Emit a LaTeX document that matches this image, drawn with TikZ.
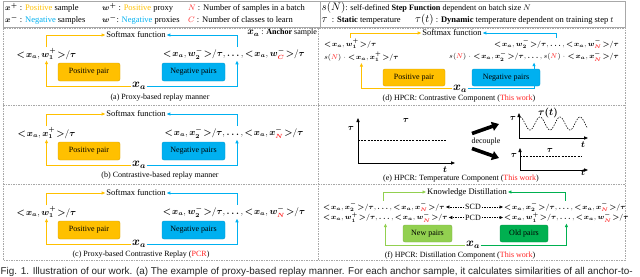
\documentclass[tikz,border=0pt]{standalone}
\usepackage{fontspec}
\setmainfont{Liberation Serif}
\newfontfamily\capfont{Liberation Sans}
\usepackage{bm}
\usetikzlibrary{arrows.meta}
\definecolor{cyel}{HTML}{FFC000}
\definecolor{cblu}{HTML}{00B0F0}
\definecolor{cgrl}{HTML}{92D050}
\definecolor{cgrd}{HTML}{00B050}
\definecolor{cred}{HTML}{FF2020}
\definecolor{cbord}{HTML}{A8A8A8}
\newcommand{\fsz}[1]{\fontsize{#1}{#1}\selectfont}
\newcommand{\XA}{\bm{x}_{\bm{a}}}
\newcommand{\RN}{{\color{cred}\bm{N}}}
\newcommand{\RC}{{\color{cred}\bm{C}}}
\newcommand{\mlt}{\mathord{\bm{<}}\mskip2mu}
\newcommand{\mgt}{\mskip2mu\mathord{\bm{>}}/\bm{\tau}}
\newcommand{\pair}[3]{\mlt\XA,\bm{#1}_{#2}^{\bm{#3}}\mgt}
\newcommand{\dts}{,\bm{\ldots},}
\newcommand{\sN}{s({\color{cred}N})\mskip1mu\cdot\mskip1mu}
\tikzset{
  smx/.style={font=\fsz{8.5}, inner sep=1pt},
  mth/.style={font=\fsz{9.2}, inner sep=1pt},
  mths/.style={font=\fsz{7.1}, inner sep=1pt},
  txs/.style={font=\fsz{8}, inner sep=1pt},
  capt/.style={font=\fsz{8}, inner sep=0pt},
  leg/.style={font=\fsz{8.5}, inner sep=0pt, anchor=west},
  xan/.style={font=\fsz{12}, inner sep=0.5pt},
  pbox/.style={rounded corners=2pt, font=\fsz{8}, inner sep=0pt, minimum height=18pt},
  posbox/.style={pbox, fill=cyel, draw=cyel!85!black, minimum width=62pt},
  negbox/.style={pbox, fill=cblu, draw=cblu!85!black, minimum width=63pt},
  newbox/.style={pbox, fill=cgrl, draw=cgrl!85!black, minimum width=49pt, minimum height=17pt},
  oldbox/.style={pbox, fill=cgrd, draw=cgrd!85!black, minimum width=48pt, minimum height=17pt},
  tip/.style={-{Triangle[length=3.5pt,width=3pt]}},
  yline/.style={tip, draw=cyel, line width=0.9pt},
  bline/.style={tip, draw=cblu, line width=0.9pt},
  lgline/.style={tip, draw=cgrl, line width=0.9pt},
  dgline/.style={tip, draw=cgrd, line width=0.9pt},
  darr/.style={tip, dashed, dash pattern=on 1.5pt off 1pt, line width=0.6pt},
  axis/.style={-{Triangle[length=4pt,width=3.2pt]}, line width=0.8pt},
  bigarr/.style={-{Triangle[length=7pt,width=9pt]}, line width=3.6pt},
  dashbord/.style={draw=cbord, line width=0.6pt, dash pattern=on 1.5pt off 1pt},
  legbord/.style={draw=cbord, line width=0.6pt}
}
\newcommand{\leftpanel}[5]{%
\begin{scope}[yshift=-#5pt]
\node[smx] (sm#1) at (136,35) {Softmax function};
\node[mth] (p#1) at (46.5,54) {#2};
\node[mth] (n#1) at (234,54) {#3};
\node[posbox] (pb#1) at (89,72) {Positive pair};
\node[negbox] (nb#1) at (193.5,72) {Negative pairs};
\node[xan] (xa#1) at (139,86) {$\XA$};
\draw[yline] (p#1.north) |- (sm#1.west);
\draw[bline] ([xshift=3pt]n#1.north) |- (sm#1.east);
\draw[yline] (xa#1.west) -| (p#1.south);
\draw[bline] (xa#1.east) -| ([xshift=3pt]n#1.south);
\end{scope}}
\begin{document}
\begin{tikzpicture}[x=1pt,y=-1pt]
\useasboundingbox (0,0) rectangle (640,276);
\clip (0,0) rectangle (640,276);
% legend boxes
\draw[legbord] (3,1) rectangle (320,27);
\draw[legbord] (320,1) rectangle (625,27);
\node[leg] (l1) at (5,8) {$\bm{x}^{\bm{+}}$ : {\color{cyel}Positive} sample};
\node[leg] (l2) at (102,8) {$\bm{w}^{\bm{+}}$ : {\color{cyel}Positive} proxy};
\node[leg] (l3) at (188,8) {$\color{cred}N$ : Number of samples in a batch};
\node[leg] (l4) at (5,20) {$\bm{x}^{\bm{-}}$ : {\color{cblu}Negative} samples};
\node[leg] (l5) at (102,20) {$\bm{w}^{\bm{-}}$: {\color{cblu}Negative} proxies};
\node[leg] (l6) at (188,20) {$\color{cred}C$ : Number of classes to learn};
\node[leg, font=\fsz{8.2}] (l7) at (321.5,8) {{\fsz{11}$s(N)$}: self-defined \textbf{Step Function} dependent on batch size $N$};
\node[leg, font=\fsz{8.5}] (l8) at (321.5,20) {{\fsz{11}$\tau$}\ \ : \textbf{Static} temperature};
\node[leg, font=\fsz{8.5}] (l9) at (415,20) {{\fsz{11}$\tau(t)$} : \textbf{Dynamic} temperature dependent on training step $t$};
% main dashed frame
\draw[dashbord] (3,28) rectangle (625,260);
\draw[dashbord] (3,105) -- (625,105);
\draw[dashbord] (3,184) -- (625,184);
\draw[dashbord] (318,28) -- (318,260);
% left panels
\leftpanel{a}{$\pair{w}{\bm{1}}{+}$}{$\pair{w}{\bm{2}}{-}\dts\pair{w}{\RC}{-}$}{}{0}
\leftpanel{b}{$\pair{x}{\bm{1}}{+}$}{$\pair{x}{\bm{2}}{-}\dts\pair{x}{\RN}{-}$}{}{79}
\leftpanel{c}{$\pair{w}{\bm{1}}{+}$}{$\pair{w}{\bm{2}}{-}\dts\pair{w}{\RN}{-}$}{}{158}
\node[leg, anchor=east, font=\fsz{8}] (anc) at (317,33) {{\fsz{10}$\XA$} : \textbf{Anchor} sample};
\node[capt] (ca) at (160,98) {(a) Proxy-based replay manner};
\node[capt] (cb) at (160,176) {(b) Contrastive-based replay manner};
\node[capt] (cc) at (141,255) {(c) Proxy-based Contrastive Replay ({\color{cred}PCR})};
% panel d
\node[smx] (smd) at (452,33) {Softmax function};
\node[mths, anchor=west] (d1l) at (323,44) {$\pair{w}{\bm{1}}{+}$};
\node[mths, anchor=west] (d2l) at (323,57) {$\sN\pair{x}{\bm{1}}{+}$};
\node[mths, anchor=east] (d1r) at (620,44) {$\pair{w}{\bm{2}}{-}\dts\pair{w}{\RN}{-}$};
\node[mths, anchor=east] (d2r) at (620,56.5) {$\sN\pair{x}{\bm{2}}{-}\dts\sN\pair{x}{\RN}{-}$};
\node[posbox, minimum height=17pt] (pbd) at (414,77.5) {Positive pair};
\node[negbox, minimum height=17pt, minimum width=68pt] (nbd) at (506,77.5) {Negative pairs};
\node[xan] (xad) at (460,88.5) {$\XA$};
\draw[yline] (d1l.north) |- (smd.west);
\draw[bline] (d1r.north) |- (smd.east);
\draw[yline] (xad.west) -| (d2l.south);
\draw[bline] (xad.east) -| (d2r.south);
\node[capt] (cd) at (459,99) {(d) HPCR: Contrastive Component ({\color{cred}This work})};
% panel e
\coordinate (eo) at (358,163);
\draw[axis] (eo) -- (358,118);
\draw[axis] (eo) -- (455,163);
\draw[dashed, dash pattern=on 2pt off 1.2pt, line width=0.6pt] (358,140) -- (447,140);
\node[mth, font=\fsz{9.5}] (et1) at (351,128) {$\bm{\tau}$};
\node[mth, font=\fsz{9.5}] (et2) at (406,120) {$\bm{\tau}$};
\node[mth, font=\fsz{9.5}] (et3) at (445,170) {$\bm{t}$};
\node[txs, font=\fsz{8}] (dec) at (486,142) {decouple};
\draw[bigarr] (472,133.5) -- (499,124);
\draw[bigarr] (472,148.5) -- (499,158);
\draw[axis] (519,138) -- (519,113);
\draw[axis] (519,138) -- (588,138);
\draw[dashed, dash pattern=on 1.5pt off 1.2pt, line width=0.6pt] plot[domain=520:587, samples=90] (\x, {123.5-6.5*cos(18*(\x-520))});
\node[mth, font=\fsz{9.5}] (et4) at (513,118) {$\bm{\tau}$};
\node[mth, font=\fsz{10}] (et5) at (548,112.5) {$\bm{\tau(t)}$};
\node[mth, font=\fsz{9.5}] (et6) at (583,145) {$\bm{t}$};
\draw[axis] (520,170) -- (520,148);
\draw[axis] (520,170) -- (588,170);
\draw[dashed, dash pattern=on 2pt off 1.2pt, line width=0.6pt] (520,156) -- (582,156);
\node[mth, font=\fsz{9.5}] (et7) at (514,155) {$\bm{\tau}$};
\node[mth, font=\fsz{9.5}] (et8) at (550,150) {$\bm{\tau}$};
\node[mth, font=\fsz{9.5}] (et9) at (583,173) {$\bm{t}$};
\node[capt] (ce) at (461,178.5) {(e) HPCR: Temperature Component ({\color{cred}This work})};
% panel f
\node[smx] (kd) at (467,192) {Knowledge Distillation};
\node[mths, anchor=west] (f1l) at (322,207) {$\pair{x}{\bm{2}}{-}\dts\pair{x}{\RN}{-}$};
\node[mths, anchor=west] (f2l) at (322,217.5) {$\pair{w}{\bm{1}}{+}\dts\pair{w}{\RN}{-}$};
\node[txs] (scd) at (473,207) {SCD};
\node[txs] (pcd) at (473,217.5) {PCD};
\node[mths, anchor=west] (f1r) at (503,207) {$\pair{x}{\bm{2}}{-}\dts\pair{x}{\RN}{-}$};
\node[mths, anchor=west] (f2r) at (503,217.5) {$\pair{w}{\bm{1}}{+}\dts\pair{w}{\RN}{-}$};
\draw[darr] (scd.west) -- (f1l.east);
\draw[darr] (scd.east) -- (f1r.west);
\draw[darr] (pcd.west) -- (f2l.east);
\draw[darr] (pcd.east) -- (f2r.west);
\node[newbox] (nwb) at (427.5,233.5) {New pairs};
\node[oldbox] (odb) at (524,233.5) {Old pairs};
\node[xan] (xaf) at (473,245) {$\XA$};
\draw[lgline] (f1l.north) |- (kd.west);
\draw[dgline] (f1r.north) |- (kd.east);
\draw[lgline] (xaf.west) -| (f2l.south);
\draw[dgline] (xaf.east) -| (f2r.south);
\node[capt] (cf) at (460,256) {(f) HPCR: Distillation Component ({\color{cred}This work})};
% figure caption
\node[anchor=base west, inner sep=0pt, font=\capfont\fsz{9.9}, text=black!85] (figcap) at (0.5,274.5) {Fig. 1. Illustration of our work. (a) The example of proxy-based replay manner. For each anchor sample, it calculates similarities of all anchor-to-};
\end{tikzpicture}
\end{document}
